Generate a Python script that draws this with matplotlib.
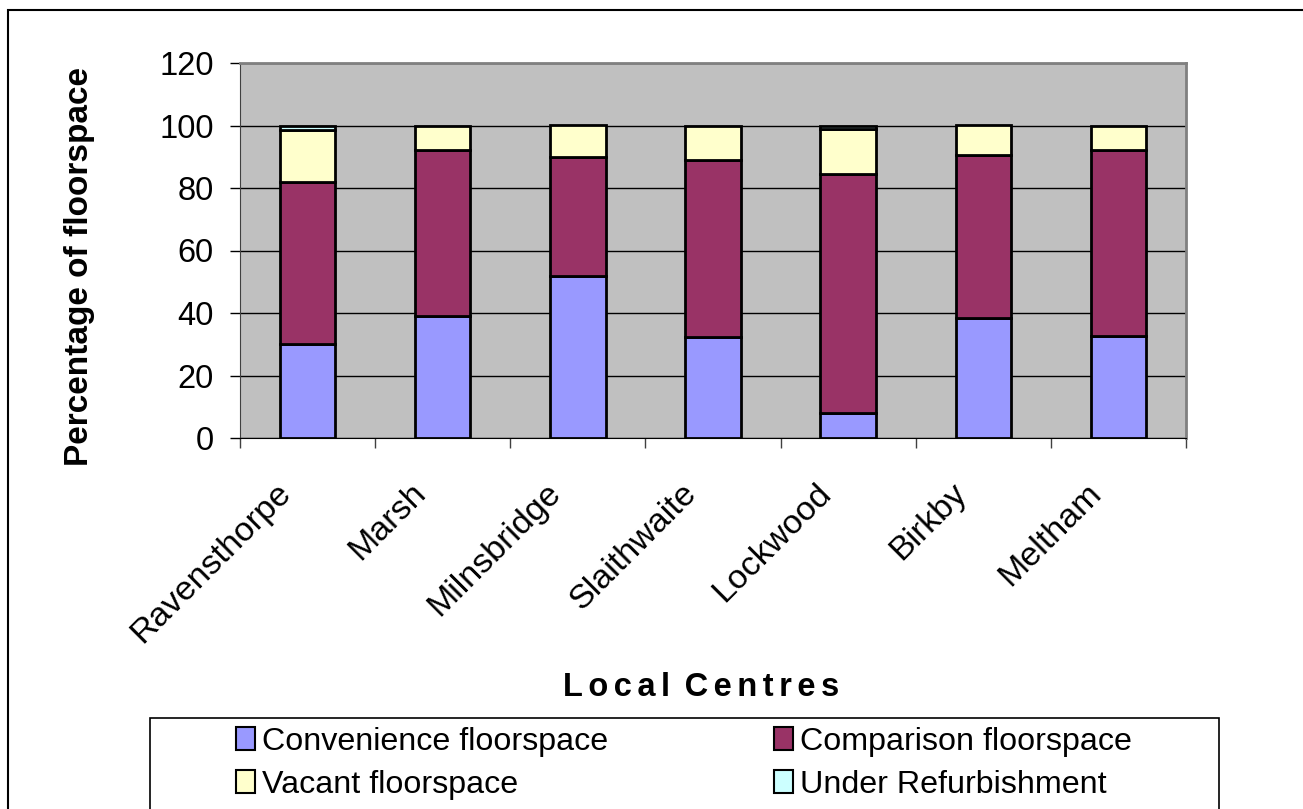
import matplotlib
matplotlib.use('Agg')
import matplotlib.pyplot as plt
from matplotlib.patches import Rectangle, Patch
import numpy as np

plt.rcParams['font.family'] = ['Liberation Sans', 'DejaVu Sans']

centres = ['Ravensthorpe', 'Marsh', 'Milnsbridge', 'Slaithwaite', 'Lockwood', 'Birkby', 'Meltham']
convenience = [30, 39.2, 51.7, 32.2, 8.1, 38.4, 32.8]
comparison = [52, 53, 38.1, 56.8, 76.3, 52.2, 59.4]
vacant = [16.5, 7.8, 10.2, 11, 14.6, 9.4, 7.8]
refurb = [1.5, 0, 0, 0, 1.0, 0, 0]

series = [
    ('Convenience floorspace', convenience, '#9999FF'),
    ('Comparison floorspace', comparison, '#993366'),
    ('Vacant floorspace', vacant, '#FFFFCC'),
    ('Under Refurbishment', refurb, '#CCFFFF'),
]

W, H = 1303, 809
fig = plt.figure(figsize=(W / 100, H / 100), dpi=100)
ax = fig.add_axes([240 / W, 1 - 438 / H, (1186 - 240) / W, (438 - 63) / H])
ax.set_facecolor('#C0C0C0')

x = np.arange(len(centres))
bottom = np.zeros(len(centres))
for name, vals, col in series:
    vals = np.array(vals, dtype=float)
    m = vals > 0  # skip empty segments
    ax.bar(x[m], vals[m], 0.41, bottom=bottom[m], color=col, edgecolor='black', linewidth=2, zorder=3)
    bottom += vals

ax.set_xlim(-0.5, len(centres) - 0.5)
ax.set_ylim(0, 120)
ax.set_yticks(range(0, 121, 20))
ax.yaxis.grid(True, color='black', linewidth=1)
ax.set_axisbelow(True)
ax.tick_params(axis='y', labelsize=23.5, length=7, width=1, pad=12, colors='black')
ax.set_xticks(np.arange(-0.5, len(centres)), [])
ax.tick_params(axis='x', length=7, width=1, color='#404040')
for s in ['top', 'right']:
    ax.spines[s].set_color('#808080')
    ax.spines[s].set_linewidth(2)
ax.spines['left'].set_color('#404040')
ax.spines['bottom'].set_color('black')

for i, name in enumerate(centres):
    ax.text(i - 0.16, -0.135, name, transform=ax.get_xaxis_transform(), rotation=45,
            rotation_mode='anchor', ha='right', va='center', fontsize=24.5)

fig.text(80 / W, 1 - 267 / H, 'Percentage of floorspace', rotation=90, ha='center', va='center',
         fontsize=24, fontweight='bold')
sp = '\u200a\u200a'
fig.text(701 / W, 1 - 688 / H, sp.join('Local') + ' ' + sp + sp.join('Centres'),
         ha='center', va='center', fontsize=23.5, fontweight='bold')

# outer border and legend box (run off the bottom/right edge)
fig.patches.append(Rectangle((8 / W, -0.1), 1.1, 1 - 10 / H + 0.1, transform=fig.transFigure,
                             fill=False, edgecolor='black', linewidth=1.5))
fig.patches.append(Rectangle((150 / W, -0.1), (1219 - 150) / W, 1 - 718 / H + 0.1,
                             transform=fig.transFigure, fill=False, edgecolor='black', linewidth=1.2))

handles = [Patch(facecolor=c, edgecolor='black', linewidth=1.5) for _, _, c in series]
labels = [n for n, _, _ in series]
order = [0, 2, 1, 3]
fig.legend([handles[i] for i in order], [labels[i] for i in order], ncol=2, frameon=False,
           loc='upper left', bbox_to_anchor=(236 / W, 1 - 727 / H), borderpad=0, borderaxespad=0,
           fontsize=23.2, handlelength=0.6, handleheight=0.7, handletextpad=0.2,
           labelspacing=0.4, columnspacing=5.15)

fig.savefig('out.png', dpi=100)
